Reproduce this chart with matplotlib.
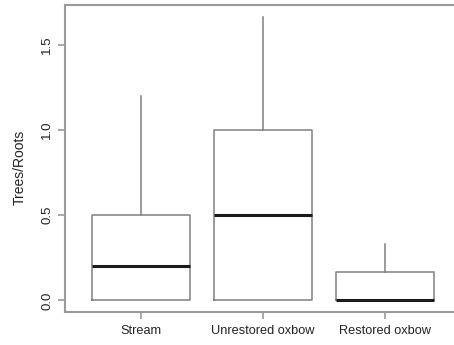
import numpy as np
import matplotlib
matplotlib.use("Agg")
import matplotlib.pyplot as plt

plt.rcParams['font.family'] = ['Liberation Sans', 'DejaVu Sans']

# Box summaries per site
sites = ["Stream", "Unrestored oxbow", "Restored oxbow"]
lower_whisker = [0.0, 0.0, 0.0]
q1 = [0.0, 0.0, 0.0]
median = [0.2, 0.5, 0.0]
q3 = [0.5, 1.0, 0.167]
upper_whisker = [1.2, 1.667, 0.333]

stats = []
for i, name in enumerate(sites):
    stats.append({"label": name, "whislo": lower_whisker[i], "q1": q1[i],
                  "med": median[i], "q3": q3[i], "whishi": upper_whisker[i]})

fig = plt.figure(figsize=(4.54, 3.45), dpi=100)
ax = fig.add_axes([65 / 454, 33.3 / 345, 396 / 454, 306.4 / 345])

frame_col = "#9a9a9a"
box_col = "#808080"

ax.bxp(stats, positions=[1, 2, 3], widths=0.8, showcaps=False, showfliers=False,
       boxprops=dict(color=box_col, linewidth=1.1),
       whiskerprops=dict(color=box_col, linewidth=1.1),
       medianprops=dict(color="#1a1a1a", linewidth=2.2, solid_capstyle="butt"))

ax.set_xlim(0.38, 3.62)
ax.set_ylim(-0.0667, 1.7335)

ax.set_yticks([0.0, 0.5, 1.0, 1.5])
ax.set_yticklabels(["0.0", "0.5", "1.0", "1.5"], rotation=90, va="center")
ax.set_xticks([1, 2, 3])
ax.set_xticklabels(sites)

for s in ax.spines.values():
    s.set_color(frame_col)
    s.set_linewidth(1.5)

ax.tick_params(axis="both", colors=frame_col, length=5, width=1.2, labelcolor="#222222",
               labelsize=9.5)
ax.tick_params(axis="y", pad=3.6)
ax.tick_params(axis="x", pad=4.5, labelsize=9.2)
ax.set_ylabel("Trees/Roots", fontsize=10, color="#222222")
ax.yaxis.set_label_coords(-0.114, 0.47)
ax.yaxis.label.set_va("center")

fig.savefig("out.png", dpi=100)
